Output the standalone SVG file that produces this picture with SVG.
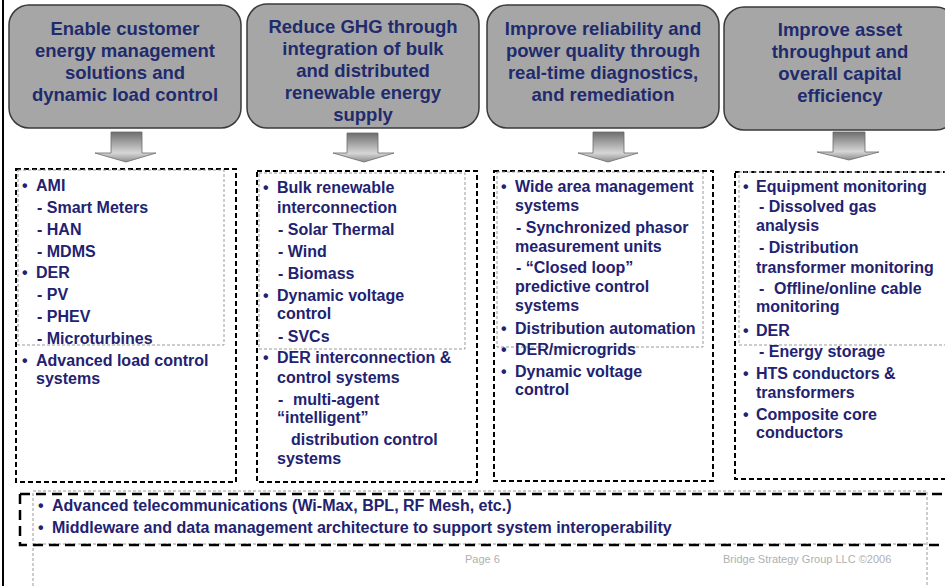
<svg xmlns="http://www.w3.org/2000/svg" width="945" height="586" viewBox="0 0 945 586">
  <defs>
    <style>
      .hdr { fill: #a6a6a6; stroke: #3a3a3a; stroke-width: 1.5; }
      .htxt { font-family: "Liberation Sans", Arial, sans-serif; font-weight: bold; font-size: 18.5px; fill: #1f2b6c; text-anchor: middle; }
      .btxt { font-family: "Liberation Sans", Arial, sans-serif; font-weight: bold; font-size: 16px; fill: #222270; }
      .outer { fill: none; stroke: #000; stroke-width: 2; stroke-dasharray: 5 3; }
      .inner { fill: none; stroke: #9a9a9a; stroke-width: 1; stroke-dasharray: 3 2; }
      .band { fill: none; stroke: #000; stroke-width: 2.5; stroke-dasharray: 10 6; }
      .foot { font-family: "Liberation Sans", Arial, sans-serif; font-size: 11px; fill: #b0b0b0; }
      .arrow { fill: url(#arrowFill); stroke: #6a6a6a; stroke-width: 0.8; }
    </style>
    <linearGradient id="arrowFill" x1="0" y1="0" x2="0" y2="1">
      <stop offset="0" stop-color="#6e6e6e"/>
      <stop offset="0.7" stop-color="#d6d6d6"/>
      <stop offset="1" stop-color="#8c8c8c"/>
    </linearGradient>
  </defs>

  <rect width="945" height="586" fill="#fff"/>
  <!-- left page rule -->
  <line x1="3" y1="0" x2="3" y2="586" stroke="#000" stroke-width="2"/>

  <!-- goal headers -->
  <g id="goal-customer">
    <rect class="hdr" x="9" y="5" width="232" height="123" rx="20"/>
    <text class="htxt" x="125" y="35">Enable customer</text>
    <text class="htxt" x="125" y="57">energy management</text>
    <text class="htxt" x="125" y="79">solutions and</text>
    <text class="htxt" x="125" y="101">dynamic load control</text>
  </g>
  <g id="goal-ghg">
    <rect class="hdr" x="247" y="4" width="232" height="124" rx="20"/>
    <text class="htxt" x="363" y="33">Reduce GHG through</text>
    <text class="htxt" x="363" y="55">integration of bulk</text>
    <text class="htxt" x="363" y="77">and distributed</text>
    <text class="htxt" x="363" y="99">renewable energy</text>
    <text class="htxt" x="363" y="121">supply</text>
  </g>
  <g id="goal-reliability">
    <rect class="hdr" x="487" y="5" width="232" height="123" rx="20"/>
    <text class="htxt" x="603" y="35">Improve reliability and</text>
    <text class="htxt" x="603" y="57">power quality through</text>
    <text class="htxt" x="603" y="79">real-time diagnostics,</text>
    <text class="htxt" x="603" y="101">and remediation</text>
  </g>
  <g id="goal-asset">
    <rect class="hdr" x="724" y="7" width="232" height="123" rx="20"/>
    <text class="htxt" x="840" y="36">Improve asset</text>
    <text class="htxt" x="840" y="58">throughput and</text>
    <text class="htxt" x="840" y="80">overall capital</text>
    <text class="htxt" x="840" y="102">efficiency</text>
  </g>

  <!-- block arrows from goals to technologies -->
  <g id="connectors">
    <path class="arrow" d="M111,132 H142 V153 H156 L126,162 L95,153 H111 Z"/>
    <path class="arrow" d="M347,133 H378 V153 H394 L364,162 L333,153 H347 Z"/>
    <path class="arrow" d="M593,132 H624 V153 H638 L608,162 L578,153 H593 Z"/>
    <path class="arrow" d="M833,132 H865 V152 H879 L849,160 L817,152 H833 Z"/>
  </g>

  <!-- technology lists -->
  <g id="tech-customer">
    <rect class="outer" x="16" y="169" width="220" height="313"/>
    <rect class="inner" x="18" y="170" width="206" height="175"/>
    <text class="btxt" x="22" y="191">•</text><text class="btxt" x="36" y="191">AMI</text>
    <text class="btxt" x="37" y="213">- Smart Meters</text>
    <text class="btxt" x="37" y="235">- HAN</text>
    <text class="btxt" x="37" y="257">- MDMS</text>
    <text class="btxt" x="22" y="278">•</text><text class="btxt" x="36" y="278">DER</text>
    <text class="btxt" x="37" y="300">- PV</text>
    <text class="btxt" x="37" y="322">- PHEV</text>
    <text class="btxt" x="37" y="344">- Microturbines</text>
    <text class="btxt" x="22" y="366">•</text><text class="btxt" x="36" y="366">Advanced load control</text>
    <text class="btxt" x="36" y="384">systems</text>
  </g>

  <g id="tech-ghg">
    <rect class="outer" x="257" y="171" width="220" height="311"/>
    <rect class="inner" x="259" y="173" width="206" height="176"/>
    <text class="btxt" x="263" y="193">•</text><text class="btxt" x="277" y="193">Bulk renewable</text>
    <text class="btxt" x="277" y="213">interconnection</text>
    <text class="btxt" x="278" y="235">- Solar Thermal</text>
    <text class="btxt" x="278" y="257">- Wind</text>
    <text class="btxt" x="278" y="279">- Biomass</text>
    <text class="btxt" x="263" y="301">•</text><text class="btxt" x="277" y="301">Dynamic voltage</text>
    <text class="btxt" x="277" y="319">control</text>
    <text class="btxt" x="278" y="342">- SVCs</text>
    <text class="btxt" x="263" y="363">•</text><text class="btxt" x="277" y="363">DER interconnection &amp;</text>
    <text class="btxt" x="277" y="383">control systems</text>
    <text class="btxt" x="278" y="405">-</text><text class="btxt" x="293" y="405">multi-agent</text>
    <text class="btxt" x="277" y="423">“intelligent”</text>
    <text class="btxt" x="291" y="445">distribution control</text>
    <text class="btxt" x="277" y="464">systems</text>
  </g>

  <g id="tech-reliability">
    <rect class="outer" x="494" y="171" width="219" height="310"/>
    <rect class="inner" x="497" y="172" width="206" height="175"/>
    <text class="btxt" x="501" y="192">•</text><text class="btxt" x="515" y="192">Wide area management</text>
    <text class="btxt" x="515" y="211">systems</text>
    <text class="btxt" x="516" y="233">- Synchronized phasor</text>
    <text class="btxt" x="515" y="252">measurement units</text>
    <text class="btxt" x="516" y="273">- “Closed loop”</text>
    <text class="btxt" x="515" y="292">predictive control</text>
    <text class="btxt" x="515" y="311">systems</text>
    <text class="btxt" x="501" y="334">•</text><text class="btxt" x="515" y="334">Distribution automation</text>
    <text class="btxt" x="501" y="355">•</text><text class="btxt" x="515" y="355">DER/microgrids</text>
    <text class="btxt" x="501" y="377">•</text><text class="btxt" x="515" y="377">Dynamic voltage</text>
    <text class="btxt" x="515" y="395">control</text>
  </g>

  <g id="tech-asset">
    <rect class="outer" x="735" y="172" width="220" height="307"/>
    <rect class="inner" x="739" y="172" width="215" height="173"/>
    <text class="btxt" x="743" y="192">•</text><text class="btxt" x="756" y="192">Equipment monitoring</text>
    <text class="btxt" x="759" y="212">- Dissolved gas</text>
    <text class="btxt" x="756" y="231">analysis</text>
    <text class="btxt" x="759" y="253">- Distribution</text>
    <text class="btxt" x="756" y="273">transformer monitoring</text>
    <text class="btxt" x="759" y="294">-</text><text class="btxt" x="774" y="294">Offline/online cable</text>
    <text class="btxt" x="756" y="312">monitoring</text>
    <text class="btxt" x="743" y="336">•</text><text class="btxt" x="756" y="336">DER</text>
    <text class="btxt" x="759" y="357">- Energy storage</text>
    <text class="btxt" x="743" y="379">•</text><text class="btxt" x="756" y="379">HTS conductors &amp;</text>
    <text class="btxt" x="756" y="398">transformers</text>
    <text class="btxt" x="743" y="420">•</text><text class="btxt" x="756" y="420">Composite core</text>
    <text class="btxt" x="756" y="438">conductors</text>
  </g>

  <!-- shared enabling infrastructure -->
  <g id="enablers">
    <path class="inner" d="M33,586 V491 H927 V586 M33,544 H927"/>
    <path class="band" d="M20,494 H945 M20,494 V545 H945"/>
    <text class="btxt" x="38" y="511">•</text><text class="btxt" x="52" y="511">Advanced telecommunications (Wi-Max, BPL, RF Mesh, etc.)</text>
    <text class="btxt" x="38" y="533">•</text><text class="btxt" x="52" y="533">Middleware and data management architecture to support system interoperability</text>
  </g>

  <!-- page footer -->
  <text class="foot" x="465" y="563">Page 6</text>
  <text class="foot" x="723" y="563">Bridge Strategy Group LLC ©2006</text>
</svg>
